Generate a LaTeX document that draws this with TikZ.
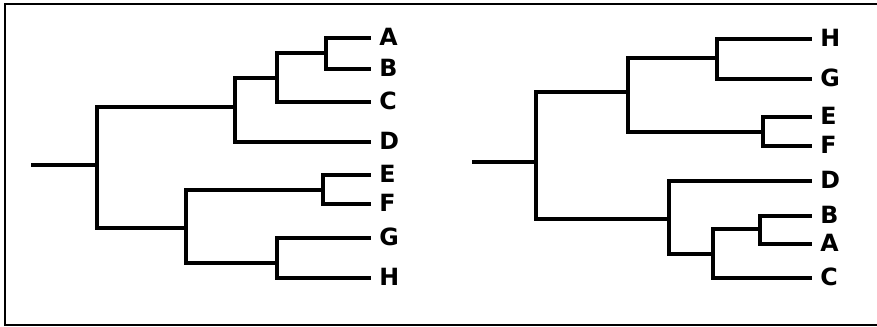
\documentclass[tikz,border=0pt]{standalone}
\usepackage{fontspec}
\setmainfont{DejaVu Sans}
\usepackage{tikz}
\usetikzlibrary{calc}
\tikzset{
  branch/.style={line width=1.8pt, color=black, line cap=rect},
  frame/.style={line width=1.4pt, color=black},
  leaf/.style={anchor=west, inner ysep=0pt, inner xsep=0.2cm, text height=1.6ex, text depth=0pt,
    font=\fontsize{13.5}{15}\selectfont\bfseries}
}
\begin{document}
\begin{tikzpicture}[x=0.02cm, y=-0.02cm]
  \useasboundingbox (0,0) rectangle (877,327);
  \draw[frame] (877,4) -- (5,4) -- (5,325) -- (877,325);

  % left tree
  \node[leaf] (lA) at (369,38) {A};
  \node[leaf] (lB) at (369,69) {B};
  \node[leaf] (lC) at (369,102) {C};
  \node[leaf] (lD) at (369,142) {D};
  \node[leaf] (lE) at (369,175) {E};
  \node[leaf] (lF) at (369,204) {F};
  \node[leaf] (lG) at (369,238) {G};
  \node[leaf] (lH) at (369,278) {H};
  \coordinate (lab) at (326,53);
  \coordinate (labc) at (277,78);
  \coordinate (labcd) at (235,107);
  \coordinate (lef) at (323,190);
  \coordinate (lgh) at (277,263);
  \coordinate (lefgh) at (186,228);
  \coordinate (lroot) at (97,165);
  \coordinate (lstub) at (33,165);

  \draw[branch] (lab) |- (lA);
  \draw[branch] (lab) |- (lB);
  \draw[branch] (labc) |- (lab);
  \draw[branch] (labc) |- (lC);
  \draw[branch] (labcd) |- (labc);
  \draw[branch] (labcd) |- (lD);
  \draw[branch] (lef) |- (lE);
  \draw[branch] (lef) |- (lF);
  \draw[branch] (lgh) |- (lG);
  \draw[branch] (lgh) |- (lH);
  \draw[branch] (lefgh) |- (lef);
  \draw[branch] (lefgh) |- (lgh);
  \draw[branch] (lroot) |- (labcd);
  \draw[branch] (lroot) |- (lefgh);
  \draw[branch] (lstub) -- (lroot);

  % right tree
  \node[leaf] (rH) at (810,39) {H};
  \node[leaf] (rG) at (810,79) {G};
  \node[leaf] (rE) at (810,117) {E};
  \node[leaf] (rF) at (810,146) {F};
  \node[leaf] (rD) at (810,181) {D};
  \node[leaf] (rB) at (810,216) {B};
  \node[leaf] (rA) at (810,244) {A};
  \node[leaf] (rC) at (810,278) {C};
  \coordinate (rhg) at (717,58);
  \coordinate (ref) at (763,132);
  \coordinate (rhgef) at (628,92);
  \coordinate (rba) at (760,229);
  \coordinate (rbac) at (713,254);
  \coordinate (rdbac) at (669,219);
  \coordinate (rroot) at (536,162);
  \coordinate (rstub) at (474,162);

  \draw[branch] (rhg) |- (rH);
  \draw[branch] (rhg) |- (rG);
  \draw[branch] (ref) |- (rE);
  \draw[branch] (ref) |- (rF);
  \draw[branch] (rhgef) |- (rhg);
  \draw[branch] (rhgef) |- (ref);
  \draw[branch] (rba) |- (rB);
  \draw[branch] (rba) |- (rA);
  \draw[branch] (rbac) |- (rba);
  \draw[branch] (rbac) |- (rC);
  \draw[branch] (rdbac) |- (rD);
  \draw[branch] (rdbac) |- (rbac);
  \draw[branch] (rroot) |- (rhgef);
  \draw[branch] (rroot) |- (rdbac);
  \draw[branch] (rstub) -- (rroot);
\end{tikzpicture}
\end{document}
